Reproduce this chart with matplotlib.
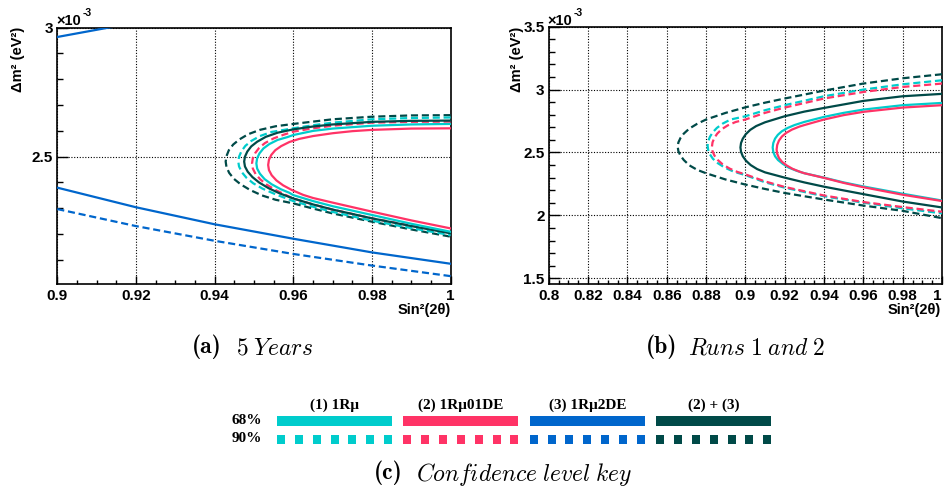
import matplotlib
matplotlib.use("Agg")
import matplotlib.pyplot as plt
from matplotlib.patches import Rectangle
from matplotlib.ticker import MultipleLocator, FuncFormatter

plt.rcParams['font.family'] = ['Liberation Sans', 'DejaVu Sans']
plt.rcParams['font.weight'] = 'bold'
plt.rcParams['mathtext.fontset'] = 'cm'

# sample colours
c_1rmu = "#00CCCC"
c_01de = "#FF3366"
c_2de = "#0066CC"
c_comb = "#004A48"

# ---- (a) 5 Years ----  (contours run upper-right -> tip -> lower-right)
a_comb_68_x = [1.0, 0.99, 0.98, 0.97, 0.965, 0.96, 0.956, 0.953, 0.9508, 0.9493, 0.9483, 0.9477, 0.9475,
               0.9477, 0.9484, 0.9496, 0.9513, 0.9537, 0.9565, 0.96, 0.965, 0.97, 0.98, 0.99, 1.0]
a_comb_68_y = [2.640, 2.639, 2.635, 2.625, 2.617, 2.606, 2.593, 2.577, 2.558, 2.540, 2.520, 2.500, 2.481,
               2.462, 2.442, 2.421, 2.400, 2.378, 2.358, 2.338, 2.315, 2.295, 2.261, 2.231, 2.203]
a_comb_90_x = [1.0, 0.99, 0.98, 0.97, 0.965, 0.96, 0.9555, 0.9515, 0.9485, 0.9463, 0.9447, 0.9436, 0.943, 0.9428,
               0.943, 0.9437, 0.9449, 0.9466, 0.949, 0.952, 0.9555, 0.96, 0.965, 0.97, 0.98, 0.99, 1.0]
a_comb_90_y = [2.661, 2.660, 2.655, 2.645, 2.636, 2.627, 2.618, 2.604, 2.587, 2.567, 2.547, 2.525, 2.502, 2.481,
               2.460, 2.437, 2.414, 2.393, 2.371, 2.350, 2.333, 2.319, 2.299, 2.280, 2.248, 2.218, 2.190]
a_1rmu_90_x = [1.0, 0.99, 0.98, 0.97, 0.965, 0.96, 0.9545, 0.9515, 0.9493, 0.9478, 0.9468, 0.9462, 0.946,
               0.9462, 0.9469, 0.9481, 0.9498, 0.9522, 0.9555, 0.96, 0.965, 0.97, 0.98, 0.99, 1.0]
a_1rmu_90_y = [2.652, 2.650, 2.645, 2.632, 2.622, 2.610, 2.596, 2.580, 2.561, 2.542, 2.521, 2.500, 2.481,
               2.462, 2.440, 2.418, 2.397, 2.376, 2.354, 2.328, 2.306, 2.286, 2.252, 2.223, 2.196]
a_01de_90_x = [1.0, 0.99, 0.98, 0.97, 0.965, 0.96, 0.9575, 0.955, 0.9528, 0.9513, 0.9503, 0.9497, 0.9495,
               0.9497, 0.9504, 0.9516, 0.9533, 0.9556, 0.958, 0.96, 0.965, 0.97, 0.98, 0.99, 1.0]
a_01de_90_y = [2.636, 2.635, 2.632, 2.620, 2.610, 2.597, 2.585, 2.571, 2.553, 2.534, 2.514, 2.494, 2.474,
               2.454, 2.433, 2.412, 2.391, 2.370, 2.352, 2.338, 2.315, 2.295, 2.261, 2.233, 2.206]
a_1rmu_68_x = [1.0, 0.99, 0.98, 0.97, 0.965, 0.96, 0.9585, 0.956, 0.9539, 0.9524, 0.9514, 0.9508, 0.9506,
               0.9508, 0.9515, 0.9527, 0.9545, 0.9568, 0.959, 0.96, 0.965, 0.97, 0.98, 0.99, 1.0]
a_1rmu_68_y = [2.627, 2.625, 2.620, 2.609, 2.600, 2.584, 2.576, 2.565, 2.549, 2.532, 2.513, 2.494, 2.474,
               2.454, 2.434, 2.413, 2.393, 2.374, 2.360, 2.351, 2.328, 2.308, 2.274, 2.240, 2.209]
a_01de_68_x = [1.0, 0.99, 0.98, 0.975, 0.97, 0.965, 0.9615, 0.959, 0.9569, 0.9554, 0.9544, 0.9538, 0.9536,
               0.9538, 0.9545, 0.9557, 0.9574, 0.9596, 0.9625, 0.965, 0.97, 0.98, 0.99, 1.0]
a_01de_68_y = [2.610, 2.609, 2.604, 2.599, 2.591, 2.580, 2.569, 2.557, 2.541, 2.525, 2.507, 2.488, 2.468,
               2.448, 2.428, 2.408, 2.389, 2.371, 2.352, 2.340, 2.322, 2.287, 2.253, 2.222]
a_2de_68_lo_x = [0.9, 0.92, 0.94, 0.96, 0.98, 1.0]
a_2de_68_lo_y = [2.380, 2.304, 2.238, 2.182, 2.129, 2.085]
a_2de_68_hi_x = [0.9, 0.9129, 0.92]
a_2de_68_hi_y = [2.964, 3.0, 3.018]
a_2de_90_x = [0.9, 0.92, 0.94, 0.96, 0.98, 1.0]
a_2de_90_y = [2.297, 2.231, 2.174, 2.123, 2.078, 2.037]

# ---- (b) Runs 1 and 2 ----
b_comb_90_x = [1.0, 0.98, 0.96, 0.94, 0.92, 0.91, 0.90, 0.89, 0.88, 0.8755, 0.8715, 0.8687, 0.867, 0.86595, 0.8656,
               0.86595, 0.867, 0.8687, 0.8715, 0.8755, 0.88, 0.89, 0.90, 0.91, 0.92, 0.94, 0.96, 0.98, 1.0]
b_comb_90_y = [3.122, 3.090, 3.048, 2.992, 2.929, 2.896, 2.859, 2.815, 2.762, 2.728, 2.690, 2.650, 2.615, 2.580, 2.545,
               2.510, 2.475, 2.440, 2.398, 2.362, 2.335, 2.285, 2.245, 2.210, 2.178, 2.126, 2.078, 2.036, 1.978]
b_1rmu_90_x = [1.0, 0.98, 0.96, 0.94, 0.92, 0.91, 0.90, 0.8925, 0.8885, 0.8855, 0.8834, 0.882, 0.8811, 0.8808,
               0.8811, 0.882, 0.8835, 0.886, 0.8895, 0.894, 0.90, 0.91, 0.92, 0.94, 0.96, 0.98, 1.0]
b_1rmu_90_y = [3.074, 3.042, 3.000, 2.947, 2.876, 2.836, 2.788, 2.762, 2.730, 2.695, 2.660, 2.625, 2.590, 2.555,
               2.520, 2.485, 2.450, 2.415, 2.380, 2.348, 2.320, 2.263, 2.220, 2.152, 2.101, 2.056, 2.016]
b_01de_90_x = [1.0, 0.98, 0.96, 0.94, 0.92, 0.91, 0.90, 0.895, 0.891, 0.888, 0.8857, 0.8842, 0.8833, 0.883,
               0.8833, 0.8843, 0.886, 0.8885, 0.892, 0.896, 0.90, 0.91, 0.92, 0.94, 0.96, 0.98, 1.0]
b_01de_90_y = [3.048, 3.021, 2.981, 2.929, 2.857, 2.815, 2.762, 2.742, 2.715, 2.685, 2.650, 2.615, 2.580, 2.545,
               2.510, 2.475, 2.440, 2.405, 2.372, 2.345, 2.326, 2.270, 2.226, 2.158, 2.106, 2.066, 2.029]
b_comb_68_x = [1.0, 0.98, 0.96, 0.94, 0.93, 0.92, 0.91, 0.9055, 0.9025, 0.9002, 0.8987, 0.8978, 0.8975,
               0.8978, 0.8987, 0.9003, 0.9027, 0.906, 0.91, 0.92, 0.93, 0.94, 0.96, 0.98, 1.0]
b_comb_68_y = [2.966, 2.947, 2.910, 2.854, 2.825, 2.788, 2.740, 2.710, 2.680, 2.645, 2.610, 2.575, 2.540,
               2.505, 2.470, 2.435, 2.400, 2.368, 2.342, 2.300, 2.262, 2.228, 2.169, 2.110, 2.063]
b_1rmu_68_x = [1.0, 0.98, 0.96, 0.95, 0.94, 0.93, 0.925, 0.9215, 0.9185, 0.9165, 0.9151, 0.9142, 0.9139,
               0.9142, 0.9151, 0.9166, 0.919, 0.922, 0.926, 0.93, 0.94, 0.95, 0.96, 0.98, 1.0]
b_1rmu_68_y = [2.894, 2.876, 2.841, 2.815, 2.783, 2.743, 2.718, 2.695, 2.668, 2.640, 2.610, 2.575, 2.540,
               2.505, 2.470, 2.440, 2.410, 2.380, 2.355, 2.335, 2.300, 2.262, 2.230, 2.172, 2.118]
b_01de_68_x = [1.0, 0.98, 0.96, 0.95, 0.94, 0.93, 0.9275, 0.9237, 0.9207, 0.9186, 0.9171, 0.9162, 0.9159,
               0.9162, 0.9171, 0.9187, 0.921, 0.924, 0.928, 0.93, 0.94, 0.95, 0.96, 0.98, 1.0]
b_01de_68_y = [2.876, 2.857, 2.823, 2.797, 2.762, 2.718, 2.706, 2.682, 2.655, 2.627, 2.595, 2.560, 2.524,
               2.490, 2.456, 2.425, 2.397, 2.370, 2.345, 2.335, 2.298, 2.258, 2.224, 2.164, 2.114]

# key
key_labels = ["(1) 1Rμ", "(2) 1Rμ01DE", "(3) 1Rμ2DE", "(2) + (3)"]
key_colors = [c_1rmu, c_01de, c_2de, c_comb]
key_rows = ["68%", "90%"]

W, H = 944, 493
fig = plt.figure(figsize=(W / 100, H / 100), dpi=100)

def px(x0, y0, x1, y1):
    return [x0 / W, 1 - y1 / H, (x1 - x0) / W, (y1 - y0) / H]

ax1 = fig.add_axes(px(57.3, 27.7, 450.7, 284.3))
ax2 = fig.add_axes(px(548.7, 26.7, 942, 284.3))

lw = 1.6
dash = (0, (3.2, 1.7))

def curve(ax, x, y, c, ls='-'):
    ax.plot(x, y, color=c, lw=lw, linestyle=ls, zorder=3, solid_joinstyle='round')

curve(ax1, a_2de_90_x, a_2de_90_y, c_2de, dash)
curve(ax1, a_2de_68_lo_x, a_2de_68_lo_y, c_2de)
curve(ax1, a_2de_68_hi_x, a_2de_68_hi_y, c_2de)
curve(ax1, a_comb_90_x, a_comb_90_y, c_comb, dash)
curve(ax1, a_1rmu_90_x, a_1rmu_90_y, c_1rmu, dash)
curve(ax1, a_01de_90_x, a_01de_90_y, c_01de, dash)
curve(ax1, a_comb_68_x, a_comb_68_y, c_comb)
curve(ax1, a_1rmu_68_x, a_1rmu_68_y, c_1rmu)
curve(ax1, a_01de_68_x, a_01de_68_y, c_01de)

curve(ax2, b_comb_90_x, b_comb_90_y, c_comb, dash)
curve(ax2, b_1rmu_90_x, b_1rmu_90_y, c_1rmu, dash)
curve(ax2, b_01de_90_x, b_01de_90_y, c_01de, dash)
curve(ax2, b_comb_68_x, b_comb_68_y, c_comb)
curve(ax2, b_1rmu_68_x, b_1rmu_68_y, c_1rmu)
curve(ax2, b_01de_68_x, b_01de_68_y, c_01de)

ax1.set_xlim(0.9, 1.0)
ax1.set_ylim(2.0054, 3.0)
ax2.set_xlim(0.8, 1.0)
ax2.set_ylim(1.452, 3.5)

fmt = FuncFormatter(lambda v, p: "%g" % round(v, 4))
for ax in (ax1, ax2):
    ax.xaxis.set_major_locator(MultipleLocator(0.02))
    ax.xaxis.set_minor_locator(MultipleLocator(0.005))
    ax.yaxis.set_major_locator(MultipleLocator(0.5))
    ax.yaxis.set_minor_locator(MultipleLocator(0.1))
    ax.xaxis.set_major_formatter(fmt)
    ax.yaxis.set_major_formatter(fmt)
    ax.tick_params(which='both', direction='in', top=False, right=False,
                   labelsize=11, width=1.0, color='black')
    ax.tick_params(axis='x', which='major', length=6, pad=3.5)
    ax.tick_params(axis='x', which='minor', length=3)
    ax.tick_params(axis='y', which='major', length=8, pad=3)
    ax.tick_params(axis='y', which='minor', length=4)
    ax.grid(True, which='major', color='black', linestyle=(0, (1, 1.5)), linewidth=0.8)
    for s in ax.spines.values():
        s.set_linewidth(1.2)

# axis titles
for ax, xl in ((ax1, 18), (ax2, 516.7)):
    fig.text(xl / W, 1 - 26.5 / H, "Δm² (eV²)", rotation=90, ha='center', va='top', fontsize=10.5)
    b = ax.get_position()
    fig.text(min(b.x1, 941 / W), 1 - 310 / H, "Sin²(2θ)", ha='right', va='center', fontsize=10.5)
    fig.text(b.x0 - 1 / W, 1 - 21 / H, "×10", ha='left', va='center', fontsize=10.5)
    fig.text(b.x0 + 25 / W, 1 - 13 / H, "-3", ha='left', va='center', fontsize=7.5)

# key and captions
axk = fig.add_axes([0, 0, 1, 1], zorder=-1)
axk.set_xlim(0, W)
axk.set_ylim(H, 0)
axk.axis('off')

serif = ['Liberation Serif', 'DejaVu Serif']
bar_w, sq = 115, 8
for i, (lab, col) in enumerate(zip(key_labels, key_colors)):
    x0 = 277 + i * 126.4
    axk.text(x0 + bar_w / 2, 405, lab, ha='center', va='center', fontsize=11, family=serif)
    axk.add_patch(Rectangle((x0, 416), bar_w, 10, color=col, lw=0))
    for k in range(7):
        axk.add_patch(Rectangle((x0 + k * (bar_w - sq) / 6, 434.5), sq, 9, color=col, lw=0))
for j, r in enumerate(key_rows):
    axk.text(247, 421 + j * 18, r, ha='center', va='center', fontsize=11, family=serif)

captions = [("(a)", r"$\mathit{5\;Years}$", 222, 236, 347),
            ("(b)", r"$\mathit{Runs\;1\;and\;2}$", 677, 688, 347),
            ("(c)", r"$\mathit{Confidence\;level\;key}$", 402.6, 416, 473)]
for tag, txt, xr, xl, yc in captions:
    axk.text(xr, yc, tag, ha='right', va='center', fontsize=17, family='cmb10', fontweight='normal')
    axk.text(xl, yc + 1, txt, ha='left', va='center', fontsize=17)

# the "1" label of panel (b) sits at the figure edge: keep it inside
fig.canvas.draw()
for t in ax2.get_xticklabels():
    if t.get_text() == "1":
        t.set_horizontalalignment('right')

fig.savefig("out.png", dpi=100)
